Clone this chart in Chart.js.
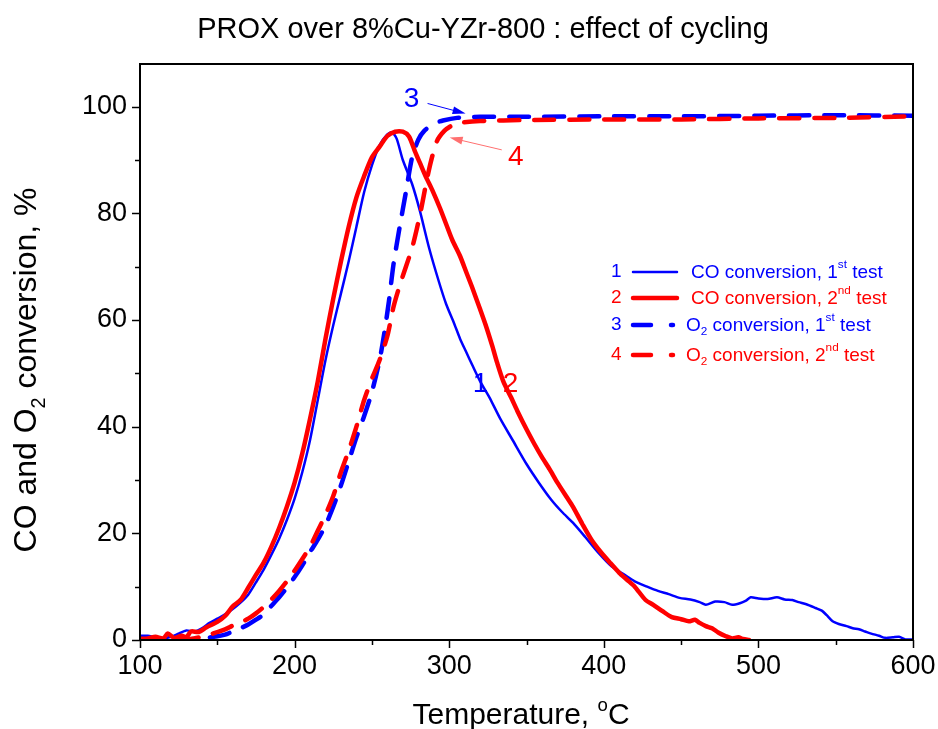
<!DOCTYPE html>
<html>
<head>
<meta charset="utf-8">
<title>PROX over 8%Cu-YZr-800</title>
<script src="https://cdn.jsdelivr.net/npm/chart.js@4/dist/chart.umd.min.js"></script>
<style>
    html, body { margin: 0; padding: 0; background: #fff; }
    #wrap { width: 938px; height: 729px; position: relative; }
</style>
</head>
<body>
<div id="wrap"><canvas id="proxChart" width="938" height="729"></canvas></div>
<script>
const FONT = "'Liberation Sans', Arial, sans-serif";
const BLUE = '#0000ff';
const RED = '#ff0000';

// CO conversion, 1st test
const co1Temp = [100,105,110,115,120,125,130,135,140,145,150,155,160,165,170,175,180,185,190,195,200,205,210,215,220,225,230,235,240,245,250,255,260,263,266,270,276,281,287,293,298,303,307,311,315,320,326,333,341,350,358,366,373,380,388,396,405,413,420,428,435,442,449,456,462,466,472,478,483,488,492,495,500,506,512,517,522,526,531,537,541,544,548,552,557,561,565,569,573,578,582,587,591,595,600];
const co1Conv = [0.8,0.8,0.5,0.3,0.6,1.2,1.8,1.6,2.2,3.2,4.0,4.8,5.8,7.0,8.5,10.8,13.2,16.0,19.0,22.5,26.5,31.5,37.5,45,52.5,59,65,71,77.5,84,89,92.8,94.8,95.2,94,90,85.5,80.5,73.5,67.5,63,59.5,56.5,54,51.5,48.5,45.5,41.5,37.5,33,29.5,26.3,24,22,19.3,16.5,13.8,12.3,11,10,9.2,8.6,7.9,7.6,7.1,6.6,7.2,7.1,6.6,6.9,7.4,8.0,7.8,7.7,8.0,7.6,7.5,7.1,6.7,6.0,5.5,4.7,3.5,3.0,2.6,2.2,2.0,1.6,1.2,0.8,0.4,0.5,0.6,0.1,0.1];

// CO conversion, 2nd test
const co2Temp = [100,105,110,115,118,122,127,130,133,138,143,150,155,160,165,170,175,180,185,190,195,200,205,210,215,220,225,230,235,240,245,250,255,260,265,270,274,278,281,285,289,294,298,302,307,311,315,320,324,328,331,335,340,344,350,355,360,365,370,376,380,386,392,398,404,410,415,420,427,432,438,444,450,455,459,462,466,470,474,479,483,487,490,494];
const co2Conv = [0.2,0.3,0.6,0.3,1.2,0.4,0.8,0.5,1.6,1.5,2.4,3.4,4.5,6.3,7.5,9.8,12.2,14.5,17.5,21.0,25,29.5,35,41.5,48.5,56.5,64,71,77.5,83,87,90.5,92.5,94.5,95.3,95.3,94.4,91.5,89.5,86.8,84.4,81,78,75,72,69,66,62,58.7,55,52,48.5,45.5,43,39.5,36.8,34.3,32,29.5,26.8,25,21.8,18.8,16.5,14.5,12.6,11.3,10,7.5,6.6,5.4,4.3,3.9,3.5,3.8,3.2,2.6,2.2,1.4,0.7,0.3,0.5,0.2,0];

// O2 conversion, 1st test
const o21Temp = [100,110,120,130,140,150,155,160,165,170,175,180,185,190,195,200,205,210,215,220,225,230,235,240,245,250,255,258,261,264,268,272,276,280,284,290,296,305,320,350,400,450,500,550,600];
const o21Conv = [0,0,0,0.1,0.3,0.7,1.0,1.6,2.2,2.9,3.8,4.8,6.4,8.0,9.8,11.8,14.0,16.5,18.8,21.5,25,29,33.5,38,42,46.5,52.5,57.5,63.5,70.5,77.5,84,90.5,93.8,95.5,96.8,97.4,97.9,98.1,98.1,98.2,98.2,98.3,98.4,98.3];

// O2 conversion, 2nd test
const o22Temp = [125,130,135,140,145,150,155,160,165,170,175,180,185,190,195,200,205,210,215,220,225,230,235,240,245,250,255,260,264,268,272,276,279,282,285,288,292,297,302,308,320,350,400,450,500,550,600];
const o22Conv = [0,0.1,0.3,0.6,1.0,1.5,2.0,2.7,3.3,4.0,5.0,6.2,7.6,9.2,11.0,13.0,15.2,17.5,20.5,23.5,27,31.5,35.5,40,45,49,52.5,57,62.5,66.5,70,73.5,77,81,85.5,89.5,93.5,95.5,96.5,97,97.3,97.5,97.6,97.6,97.8,97.9,98.2];

const X_MIN = 100, X_MAX = 600;
const Y_MIN = 0, Y_MAX = 108;
const xTickLabels = [100, 200, 300, 400, 500, 600];
const yTickLabels = [0, 20, 40, 60, 80, 100];

// curve labels and arrows, in data units
const curveLabels = [
    {text: '3', x: 275.7, y: 101.3, color: BLUE},
    {text: '4', x: 343, y: 90.6, color: RED},
    {text: '1', x: 320.3, y: 48, color: BLUE},
    {text: '2', x: 339.7, y: 48, color: RED}
];
const arrows = [
    {from: [286, 100.6], to: [310.6, 98.7], color: BLUE},
    {from: [334, 91.9], to: [300.3, 94.2], color: '#ff7070'}
];

const toPoints = (xs, ys) => xs.map((x, i) => ({x: x, y: ys[i]}));

// draws a row of text pieces, some of them raised or lowered
const drawRich = (ctx, parts, x, y, size, color) => {
    let cx = x;
    parts.forEach(p => {
        const s = p.sub || p.sup ? size * 0.62 : size;
        ctx.font = `${s}px ${FONT}`;
        ctx.fillStyle = color;
        let dy = 0;
        if (p.sub) dy = size * 0.28;
        if (p.sup) dy = -size * 0.42;
        ctx.fillText(p.t, cx, y + dy);
        cx += ctx.measureText(p.t).width;
    });
    return cx - x;
};

const richWidth = (ctx, parts, size) => {
    let w = 0;
    parts.forEach(p => {
        const s = p.sub || p.sup ? size * 0.62 : size;
        ctx.font = `${s}px ${FONT}`;
        w += ctx.measureText(p.t).width;
    });
    return w;
};

const legendRows = [
    {num: '1', color: BLUE, width: 2.5, dashed: false, textX: 691, y: 272,
     parts: [{t: 'CO conversion, 1'}, {t: 'st', sup: true}, {t: ' test'}]},
    {num: '2', color: RED, width: 4.5, dashed: false, textX: 691, y: 298,
     parts: [{t: 'CO conversion, 2'}, {t: 'nd', sup: true}, {t: ' test'}]},
    {num: '3', color: BLUE, width: 4.5, dashed: true, textX: 686, y: 325,
     parts: [{t: 'O'}, {t: '2', sub: true}, {t: ' conversion, 1'}, {t: 'st', sup: true}, {t: ' test'}]},
    {num: '4', color: RED, width: 4.5, dashed: true, textX: 686, y: 355,
     parts: [{t: 'O'}, {t: '2', sub: true}, {t: ' conversion, 2'}, {t: 'nd', sup: true}, {t: ' test'}]}
];

const decorPlugin = {
    id: 'decor',
    afterDraw: chart => {
        const ctx = chart.ctx;
        const area = chart.chartArea;
        const xs = chart.scales.x;
        const ys = chart.scales.y;

        ctx.save();

        // frame
        ctx.strokeStyle = '#000';
        ctx.lineWidth = 2;
        ctx.strokeRect(area.left, area.top, area.right - area.left, area.bottom - area.top);

        // tick marks, outward
        ctx.lineWidth = 1.5;
        for (let v = 0; v <= 100; v += 10) {
            const py = Math.round(ys.getPixelForValue(v)) + 0.5;
            const len = v % 20 === 0 ? 8 : 5;
            ctx.beginPath();
            ctx.moveTo(area.left - len, py);
            ctx.lineTo(area.left, py);
            ctx.stroke();
        }
        for (let v = X_MIN; v <= X_MAX; v += 50) {
            const px = Math.round(xs.getPixelForValue(v)) + 0.5;
            const len = v % 100 === 0 ? 8 : 5;
            ctx.beginPath();
            ctx.moveTo(px, area.bottom);
            ctx.lineTo(px, area.bottom + len);
            ctx.stroke();
        }

        // title
        ctx.textBaseline = 'alphabetic';
        ctx.textAlign = 'center';
        ctx.fillStyle = '#000';
        ctx.font = `29px ${FONT}`;
        ctx.fillText('PROX over 8%Cu-YZr-800 : effect of cycling', 483, 38);

        ctx.textAlign = 'left';

        // x axis title
        const xParts = [{t: 'Temperature, '}, {t: 'o', sup: true}, {t: 'C'}];
        const xw = richWidth(ctx, xParts, 30);
        drawRich(ctx, xParts, 521 - xw / 2, 724, 30, '#000');

        // y axis title
        const yParts = [{t: 'CO and O'}, {t: '2', sub: true}, {t: ' conversion, %'}];
        const yw = richWidth(ctx, yParts, 32);
        ctx.save();
        ctx.translate(36, 370);
        ctx.rotate(-Math.PI / 2);
        drawRich(ctx, yParts, -yw / 2, 0, 32, '#000');
        ctx.restore();

        // legend
        legendRows.forEach(r => {
            ctx.textBaseline = 'middle';
            ctx.font = `19px ${FONT}`;
            ctx.fillStyle = r.color;
            ctx.fillText(r.num, 611, r.y);
            ctx.strokeStyle = r.color;
            ctx.lineWidth = r.width;
            ctx.lineCap = 'round';
            ctx.beginPath();
            if (r.dashed) {
                ctx.moveTo(633, r.y);
                ctx.lineTo(651, r.y);
                ctx.moveTo(671, r.y);
                ctx.lineTo(673, r.y);
            } else {
                ctx.moveTo(633, r.y);
                ctx.lineTo(677, r.y);
            }
            ctx.stroke();
            drawRich(ctx, r.parts, r.textX, r.y + 1, 19, r.color);
        });

        // curve numbers
        ctx.textBaseline = 'middle';
        ctx.textAlign = 'center';
        curveLabels.forEach(l => {
            ctx.font = `28px ${FONT}`;
            ctx.fillStyle = l.color;
            ctx.fillText(l.text, xs.getPixelForValue(l.x), ys.getPixelForValue(l.y));
        });

        // arrows
        arrows.forEach(a => {
            const x1 = xs.getPixelForValue(a.from[0]), y1 = ys.getPixelForValue(a.from[1]);
            const x2 = xs.getPixelForValue(a.to[0]), y2 = ys.getPixelForValue(a.to[1]);
            const ang = Math.atan2(y2 - y1, x2 - x1);
            ctx.strokeStyle = a.color;
            ctx.fillStyle = a.color;
            ctx.lineWidth = 1;
            ctx.lineCap = 'butt';
            ctx.beginPath();
            ctx.moveTo(x1, y1);
            ctx.lineTo(x2 - 10 * Math.cos(ang), y2 - 10 * Math.sin(ang));
            ctx.stroke();
            ctx.beginPath();
            ctx.moveTo(x2, y2);
            ctx.lineTo(x2 - 13 * Math.cos(ang) + 4 * Math.sin(ang), y2 - 13 * Math.sin(ang) - 4 * Math.cos(ang));
            ctx.lineTo(x2 - 13 * Math.cos(ang) - 4 * Math.sin(ang), y2 - 13 * Math.sin(ang) + 4 * Math.cos(ang));
            ctx.closePath();
            ctx.fill();
        });

        ctx.restore();
    }
};

const lineSet = (data, color, width, dashed, order) => ({
    data: data,
    borderColor: color,
    backgroundColor: color,
    borderWidth: width,
    borderDash: dashed ? [20, 15] : [],
    borderCapStyle: 'round',
    pointRadius: 0,
    tension: 0.25,
    fill: false,
    order: order
});

const ctx = document.getElementById('proxChart').getContext('2d');

const CHART = new Chart(ctx, {
    type: 'line',
    data: {
        datasets: [
            lineSet(toPoints(co2Temp, co2Conv), RED, 4.5, false, 1),
            lineSet(toPoints(o22Temp, o22Conv), RED, 4.5, true, 1),
            lineSet(toPoints(co1Temp, co1Conv), BLUE, 2.5, false, 2),
            lineSet(toPoints(o21Temp, o21Conv), BLUE, 4.5, true, 2)
        ]
    },
    options: {
        responsive: false,
        animation: false,
        layout: { padding: { left: 0, top: 64, right: 25, bottom: 0 } },
        plugins: {
            legend: { display: false },
            title: { display: false },
            tooltip: { enabled: false }
        },
        scales: {
            x: {
                type: 'linear',
                min: X_MIN,
                max: X_MAX,
                grid: { display: true, drawOnChartArea: false, drawTicks: true, tickLength: 8, tickColor: 'rgba(0,0,0,0)' },
                border: { display: false },
                afterFit: scale => { scale.height = 89; },
                ticks: {
                    stepSize: 50,
                    includeBounds: false,
                    autoSkip: false,
                    maxRotation: 0,
                    padding: 2,
                    color: '#000',
                    font: { family: FONT, size: 27 },
                    callback: v => xTickLabels.includes(v) ? String(v) : ''
                }
            },
            y: {
                min: Y_MIN,
                max: Y_MAX,
                grid: { display: true, drawOnChartArea: false, drawTicks: true, tickLength: 8, tickColor: 'rgba(0,0,0,0)' },
                border: { display: false },
                afterFit: scale => { scale.width = 140; },
                ticks: {
                    stepSize: 10,
                    includeBounds: false,
                    autoSkip: false,
                    padding: 5,
                    color: '#000',
                    font: { family: FONT, size: 27 },
                    callback: v => yTickLabels.includes(v) ? String(v) : ''
                }
            }
        }
    },
    plugins: [decorPlugin]
});
</script>
</body>
</html>
